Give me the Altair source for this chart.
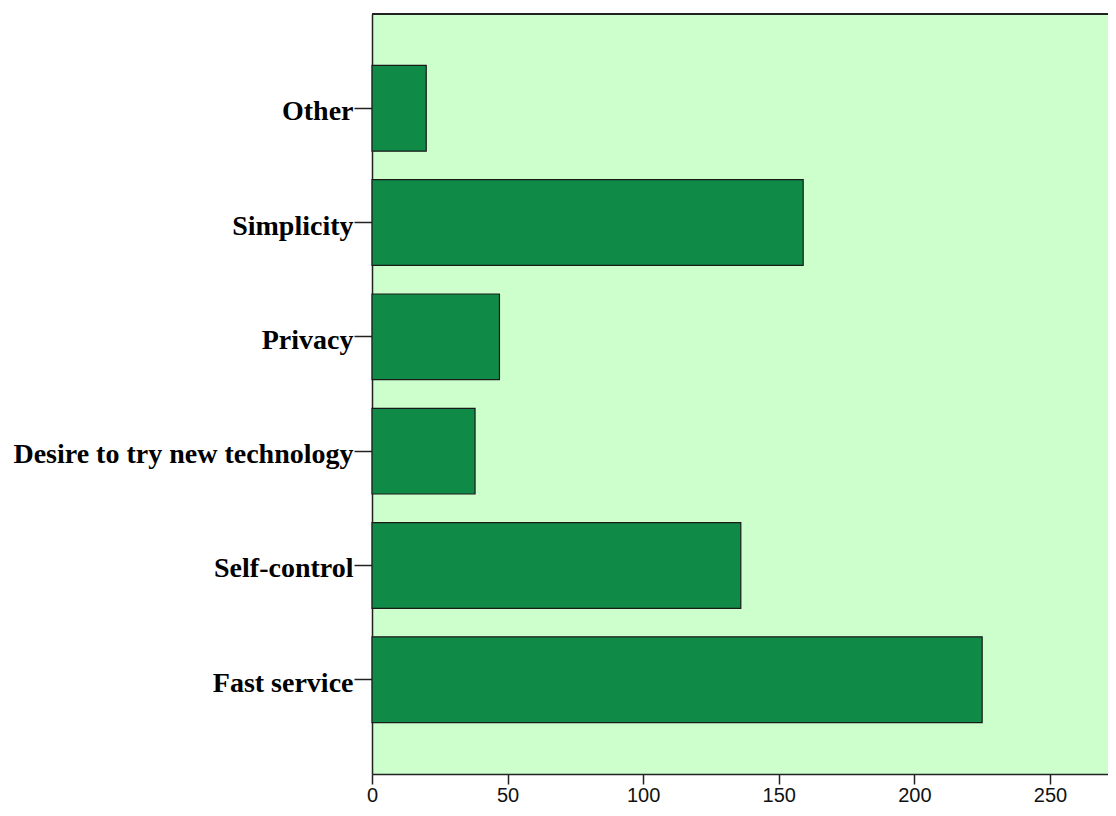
import altair as alt
import pandas as pd

categories = ["Other", "Simplicity", "Privacy", "Desire to try new technology", "Self-control", "Fast service"]
counts = [20, 159, 47, 38, 136, 225]
x_ticks = [0, 50, 100, 150, 200, 250]

df = pd.DataFrame({"reason": categories, "count": counts})

W, H = 736, 760

bars = alt.Chart(df).mark_bar(color="#0F8B47", stroke="#1a1a1a", strokeWidth=1.2).encode(
    y=alt.Y("reason:N", sort=categories,
            scale=alt.Scale(paddingInner=0.25, paddingOuter=0.45),
            axis=alt.Axis(title=None, labelFont="Liberation Serif", labelFontWeight="bold",
                          labelFontSize=28, labelColor="black", labelPadding=1, labelLimit=0,
                          labelOffset=4,
                          tickSize=18, tickColor="#222222", tickWidth=1.5,
                          domainColor="#222222", domainWidth=1.5, grid=False)),
    x=alt.X("count:Q", scale=alt.Scale(domain=[0, 271.4], nice=False, zero=True),
            axis=alt.Axis(title=None, values=x_ticks, labelFont="Liberation Sans",
                          labelFontSize=20, labelColor="#111111", labelPadding=1,
                          labelFlush=False,
                          tickSize=10, tickColor="#222222", tickWidth=1.5,
                          domainColor="#222222", domainWidth=1.5, grid=False)),
)

top_border = alt.Chart(df).mark_rule(color="#222222", strokeWidth=1.5).encode(
    x=alt.value(0), x2=alt.value(W), y=alt.value(0)
)

chart = alt.layer(bars, top_border).properties(
    width=W, height=H,
    background="white",
    autosize=alt.AutoSizeParams(type="none"),
    padding={"left": 364, "top": 6, "right": 0, "bottom": 34},
).configure_view(fill="#CCFFCC", stroke=None)

chart.save("out.html", embed_options={"renderer": "svg", "actions": False})
